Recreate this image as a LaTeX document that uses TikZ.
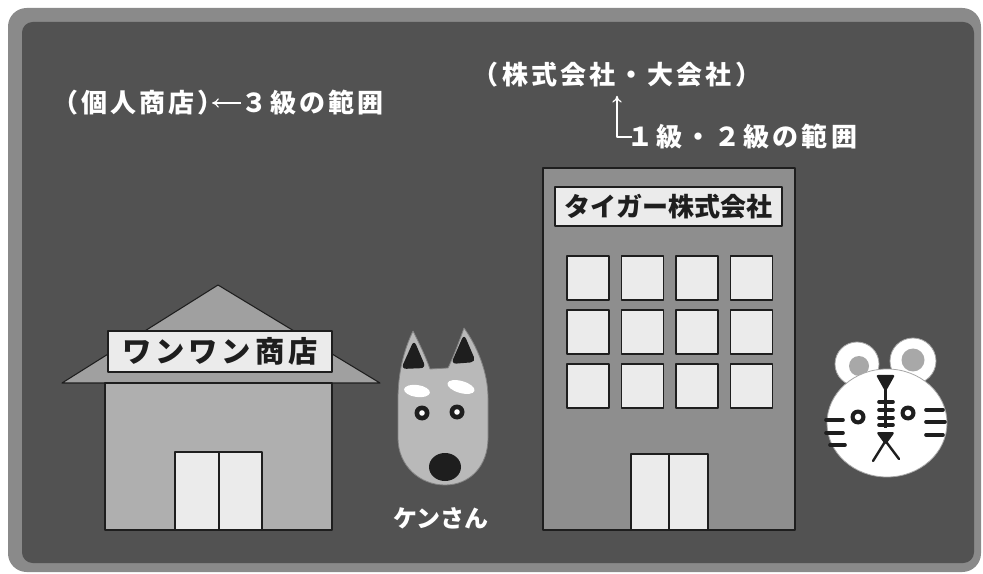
\documentclass[tikz,border=0pt]{standalone}
\usepackage{fontspec}
\newfontfamily\jp{Noto Sans CJK JP}
\newfontfamily\jpwide{Noto Sans CJK JP}[LetterSpace=12]
\newfontfamily\jpsign{Noto Sans CJK JP}[LetterSpace=13]
\usetikzlibrary{arrows.meta}

\definecolor{panel}{HTML}{525252}
\definecolor{rim}{HTML}{8A8A8A}
\definecolor{roofgray}{HTML}{A0A0A0}
\definecolor{wallgray}{HTML}{AFAFAF}
\definecolor{towergray}{HTML}{8E8E8E}
\definecolor{pane}{HTML}{EBEBEB}
\definecolor{fur}{HTML}{B9B9B9}
\definecolor{ink}{HTML}{1E1E1E}
\definecolor{earpink}{HTML}{A8A8A8}

\begin{document}
\begin{tikzpicture}[x=0.75pt,y=-0.75pt,line join=round,
  outline/.style={draw=ink,line width=1pt},
  wtext/.style={text=white,inner sep=0pt,font=\jpwide\bfseries\fontsize{19.5}{22}\selectfont},
  signtext/.style={text=ink,inner sep=0pt,draw=ink,line width=1pt,fill=pane},
  wline/.style={draw=white,line width=0.9pt,-{To[length=5pt,width=7pt]}},
  windowbox/.style={outline,fill=pane},
  stripe/.style={draw=ink,line width=2.7pt,line cap=round}]

\useasboundingbox (0,0) rectangle (983,574);
\fill[white] (0,0) rectangle (983,574);

% framed panel
\fill[rim,rounded corners=14pt] (8,8) rectangle (981,572);
\fill[panel,rounded corners=8pt] (22,22) rectangle (974,563);

% captions
\node[wtext,anchor=west] (shop) at (52,103) {（個人商店）};
\node[wtext,anchor=west] (grade3) at (241,103) {３級の範囲};
\draw[wline] (grade3.west) -- ([xshift=-9pt]shop.east);

\node[wtext] (corp) at (617,75) {（株式会社・大会社）};
\node[wtext,anchor=west] (grade12) at (627,137) {１級・２級の範囲};
\draw[wline,shorten >=6pt] ([xshift=4pt]grade12.west) -| (corp.south);

% small shop
\fill[roofgray,draw=ink,line width=0.8pt] (62,383) -- (218,285) -- (380,383) -- cycle;
\filldraw[fill=wallgray,outline] (105,383) rectangle (332,530);
\filldraw[fill=pane,outline] (175,452) rectangle (262,530);
\draw[outline] (219,452) -- (219,530);
\node[signtext,minimum width=168pt,minimum height=30.75pt,
      font=\jpsign\bfseries\fontsize{22}{24}\selectfont] (shopsign) at (220,351.5) {ワンワン商店};

% office tower
\filldraw[fill=towergray,outline] (543,168) rectangle (795,530);
\node[signtext,minimum width=170.25pt,minimum height=29.25pt,
      font=\jp\bfseries\fontsize{19.5}{22}\selectfont] (towersign) at (668.5,206.5) {タイガー株式会社};
\foreach \i in {0,...,3}{
  \foreach \j in {0,1,2}{
    \filldraw[windowbox] ({567+54.5*\i},{256+54*\j}) rectangle ++(42,44);
  }
}
\filldraw[fill=pane,outline] (631,454) rectangle (708,530);
\draw[outline] (669,454) -- (669,530);

% dog
\filldraw[fill=fur,draw=fur!70!black,line width=0.6pt]
  (413,331) .. controls (404,350) and (398,372) .. (398,400) -- (398,438)
  .. controls (398,466) and (420,485) .. (445,485)
  .. controls (470,485) and (488,466) .. (488,438) -- (488,398)
  .. controls (488,372) and (477,346) .. (464,328)
  .. controls (458,345) and (452,360) .. (448,368) -- (430,369)
  .. controls (425,355) and (419,343) .. (413,331) -- cycle;
\fill[ink,rounded corners=4pt] (414,340) -- (401,369) -- (426,368) -- cycle;
\fill[ink,rounded corners=4pt] (464,334) -- (451,364) -- (476,362) -- cycle;
\fill[white] (417,391) ellipse [x radius=13,y radius=6,rotate=-8];
\fill[white] (461,387) ellipse [x radius=14,y radius=6,rotate=-16];
\fill[ink] (422,413) circle (7.5);
\fill[white] (422,413) circle (2.8);
\fill[ink] (457,412) circle (7.5);
\fill[white] (457,412) circle (2.8);
\fill[ink] (445,467) ellipse [x radius=16,y radius=14];
\node[text=white,inner sep=0pt,font=\jp\bfseries\fontsize{18}{20}\selectfont] (ken) at (441,518) {ケンさん};

% tiger
\filldraw[fill=white,draw=gray!70,line width=0.6pt] (857,364) circle (22);
\filldraw[fill=white,draw=gray!70,line width=0.6pt] (913,361) circle (23);
\fill[earpink] (859,366) circle (10);
\fill[earpink] (913,360) circle (11.5);
\filldraw[fill=white,draw=gray!70,line width=0.6pt] (887,423) ellipse [x radius=60,y radius=54];
\fill[ink,rounded corners=1.5pt] (876,375) -- (895,375) -- (885.5,392) -- cycle;
\draw[ink,line width=1.8pt] (885.5,385) -- (885.5,428);
\foreach \y in {402,410,418,425}{\draw[stripe] (879,\y) -- (893,\y);}
\fill[ink] (858,417) circle (7.5);
\fill[white] (858,417) circle (3.3);
\fill[ink] (908,413) circle (7.5);
\fill[white] (908,413) circle (3.3);
\draw[stripe] (826,420) -- (843,420);
\draw[stripe] (826,433) -- (843,433);
\draw[stripe] (830,445) -- (845,445);
\draw[stripe] (926,410) -- (943,410);
\draw[stripe] (926,422) -- (945,422);
\draw[stripe] (926,435) -- (943,435);
\fill[ink,rounded corners=2pt] (876,432) -- (895,432) -- (885.5,445) -- cycle;
\draw[ink,line width=1.8pt,line cap=round] (873,461) -- (885.5,441) -- (899,459);

\end{tikzpicture}
\end{document}
